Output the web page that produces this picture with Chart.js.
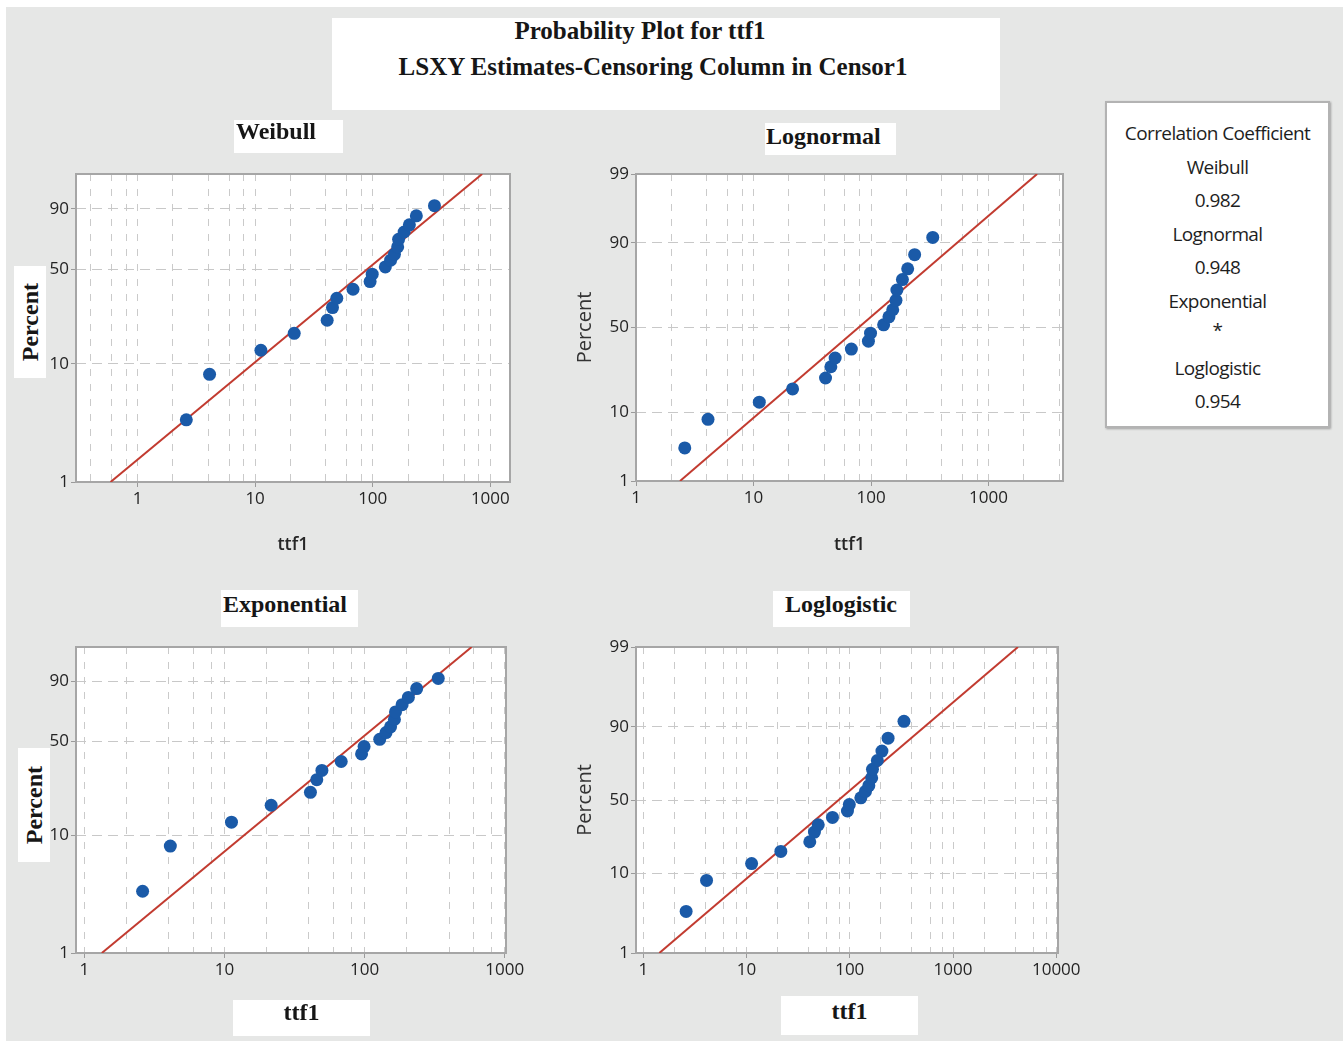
<!DOCTYPE html>
<html>
<head>
<meta charset="utf-8">
<script src="https://cdn.jsdelivr.net/npm/chart.js@4.4.1/dist/chart.umd.min.js"></script>
<style>
  html, body { margin: 0; padding: 0; background: #fff; }
  #page { position: relative; width: 1343px; height: 1041px; overflow: hidden; background: #fff; }
  #bg { position: absolute; left: 6px; top: 7px; right: 0; bottom: 0; background: #e6e7e6; }
  canvas { position: absolute; }
  .box { position: absolute; background: #fff; }
  .serif { position: absolute; font-family: "Liberation Serif", "Times New Roman", serif; font-weight: bold;
           color: #161616; line-height: 1; white-space: nowrap; }
  .vbox { position: absolute; background: #fff; display: flex; align-items: center; justify-content: center; }
  .vbox span { writing-mode: vertical-rl; transform: rotate(180deg); font-family: "Liberation Serif", serif;
               font-weight: bold; font-size: 24px; color: #161616; }
  #legend { position: absolute; left: 1105px; top: 101px; width: 221px; height: 323px; background: #fff;
            border: 2px solid #b3b3b3; box-shadow: 1px 1px 2px #a0a0a0; }
  .leg { position: absolute; left: 1105px; width: 225px; text-align: center; font-family: "Open Sans", sans-serif;
         font-size: 19px; letter-spacing: -0.6px; color: #1e1e1e; line-height: 1; }
</style>
</head>
<body>
<div id="page">
  <div id="bg"></div>

  <div class="box" style="left:332px;top:18px;width:668px;height:92px"></div>
  <div class="serif" style="left:440px;top:18px;width:400px;text-align:center;font-size:25px">Probability Plot for ttf1</div>
  <div class="serif" style="left:353px;top:54px;width:600px;text-align:center;font-size:25px">LSXY Estimates-Censoring Column in Censor1</div>

  <canvas id="weibull" width="540" height="420" style="left:0;top:150px"></canvas>
  <canvas id="lognormal" width="550" height="420" style="left:540px;top:150px"></canvas>
  <canvas id="exponential" width="540" height="420" style="left:0;top:620px"></canvas>
  <canvas id="loglogistic" width="550" height="420" style="left:540px;top:620px"></canvas>

  <div class="box" style="left:234px;top:120px;width:109px;height:33px"></div>
  <div class="serif" style="left:236px;top:119px;font-size:24px">Weibull</div>
  <div class="box" style="left:765px;top:123px;width:131px;height:32px"></div>
  <div class="serif" style="left:766px;top:124px;font-size:24px">Lognormal</div>
  <div class="box" style="left:221px;top:590px;width:137px;height:37px"></div>
  <div class="serif" style="left:223px;top:592px;font-size:24px">Exponential</div>
  <div class="box" style="left:773px;top:591px;width:137px;height:36px"></div>
  <div class="serif" style="left:785px;top:592px;font-size:24px">Loglogistic</div>

  <div class="vbox" style="left:14px;top:266px;width:32px;height:112px"><span>Percent</span></div>
  <div class="vbox" style="left:18px;top:748px;width:32px;height:114px"><span>Percent</span></div>

  <div class="box" style="left:233px;top:1000px;width:137px;height:36px"></div>
  <div class="serif" style="left:233px;top:1000px;width:137px;text-align:center;font-size:24px">ttf1</div>
  <div class="box" style="left:781px;top:996px;width:137px;height:39px"></div>
  <div class="serif" style="left:781px;top:999px;width:137px;text-align:center;font-size:24px">ttf1</div>

  <div id="legend"></div>
  <div class="leg" style="top:124px">Correlation Coefficient</div>
  <div class="leg" style="top:158px">Weibull</div>
  <div class="leg" style="top:191px">0.982</div>
  <div class="leg" style="top:225px">Lognormal</div>
  <div class="leg" style="top:258px">0.948</div>
  <div class="leg" style="top:292px">Exponential</div>
  <div class="leg" style="top:321px">*</div>
  <div class="leg" style="top:359px">Loglogistic</div>
  <div class="leg" style="top:392px">0.954</div>
</div>

<script>
// failure times (ttf1) and their plotted percent
const ttf1 = [2.6, 4.1, 11.2, 21.5, 41, 45.5, 49.5, 68, 95, 99, 128, 142, 153, 163, 166, 185, 205, 235, 335];
const percent = [3.4, 8.2, 12.9, 17.6, 22.2, 27.6, 32.2, 37.2, 41.8, 46.6, 51.6, 56.4, 60.6, 66, 71.5, 76.6, 81.3, 86.5, 91.4];

// fitted lines, ttf1 where they cross 1 % and 99 %
const lineEnds = [1, 99];
const weibullFit = [0.59, 852];
const lognormalFit = [2.37, 2590];
const exponentialFit = [1.33, 580];
const loglogisticFit = [1.43, 4260];

// tick values
const xGrid = [0.4, 0.6, 0.8, 1, 2, 4, 6, 8, 10, 20, 40, 60, 80, 100, 200, 400, 600, 800,
               1000, 2000, 4000, 6000, 8000, 10000];
const xLabels = [1, 10, 100, 1000, 10000];
const yTicks = [1, 10, 50, 90];
const yTicksTop = [1, 10, 50, 90, 99];

const tickFont = { family: "Open Sans", size: 17 };
const titleFont = { family: "Open Sans", size: 18, weight: "600" };

function normInv(p) {
  const a = [-39.69683028665376, 220.9460984245205, -275.9285104469687, 138.3577518672690, -30.66479806614716, 2.506628277459239];
  const b = [-54.47609879822406, 161.5858368580409, -155.6989798598866, 66.80131188771972, -13.28068155288572];
  const c = [-0.007784894002430293, -0.3223964580411365, -2.400758277161838, -2.549732539343734, 4.374664141464968, 2.938163982698783];
  const d = [0.007784695709041462, 0.3224671290700398, 2.445134137142996, 3.754408661907416];
  const lo = 0.02425;
  let q, r;
  if (p < lo || p > 1 - lo) {
    q = Math.sqrt(-2 * Math.log(p < lo ? p : 1 - p));
    const v = (((((c[0] * q + c[1]) * q + c[2]) * q + c[3]) * q + c[4]) * q + c[5]) /
              ((((d[0] * q + d[1]) * q + d[2]) * q + d[3]) * q + 1);
    return p < lo ? v : -v;
  }
  q = p - 0.5;
  r = q * q;
  return (((((a[0] * r + a[1]) * r + a[2]) * r + a[3]) * r + a[4]) * r + a[5]) * q /
         (((((b[0] * r + b[1]) * r + b[2]) * r + b[3]) * r + b[4]) * r + 1);
}

const transforms = {
  weibull: p => Math.log(-Math.log(1 - p / 100)),
  lognormal: p => normInv(p / 100),
  loglogistic: p => Math.log(p / (100 - p))
};

// percent axis on a probability paper scale
class ProbabilityScale extends Chart.Scale {
  determineDataLimits() {
    this.min = this.options.min;
    this.max = this.options.max;
  }
  buildTicks() {
    return [];
  }
  configure() {
    super.configure();
    const f = transforms[this.options.dist];
    this._lo = f(this.min);
    this._hi = f(this.max);
  }
  getLabelForValue(v) {
    return String(v);
  }
  getPixelForValue(v) {
    const f = transforms[this.options.dist];
    return this.getPixelForDecimal((f(v) - this._lo) / (this._hi - this._lo));
  }
  getValueForPixel() {
    return null;
  }
}
ProbabilityScale.id = "probability";
ProbabilityScale.defaults = {};
Chart.register(ProbabilityScale);

const plotFrame = {
  id: "plotFrame",
  beforeDraw(chart) {
    const { ctx, chartArea: a } = chart;
    ctx.save();
    ctx.fillStyle = "#fff";
    ctx.fillRect(a.left, a.top, a.width, a.height);
    ctx.restore();
  },
  beforeDatasetsDraw(chart) {
    const { ctx, chartArea: a } = chart;
    ctx.save();
    ctx.strokeStyle = "#a6a6a6";
    ctx.lineWidth = 2;
    ctx.strokeRect(a.left, a.top, a.width, a.height);
    ctx.restore();
  }
};

function makePanel(id, o) {
  new Chart(document.getElementById(id), {
    type: "scatter",
    data: {
      datasets: [
        {
          data: ttf1.map((x, i) => ({ x, y: percent[i] })),
          backgroundColor: "#1a5aa8",
          borderWidth: 0,
          pointRadius: 6.5
        },
        {
          data: o.fit.map((x, i) => ({ x, y: lineEnds[i] })),
          showLine: true,
          borderColor: "#c23b30",
          borderWidth: 2,
          pointRadius: 0
        }
      ]
    },
    options: {
      responsive: false,
      animation: false,
      devicePixelRatio: 1,
      events: [],
      layout: { padding: o.pad },
      plugins: { legend: { display: false }, tooltip: { enabled: false } },
      scales: {
        x: {
          type: "logarithmic",
          min: o.xMin,
          max: o.xMax,
          afterBuildTicks: s => {
            s.ticks = xGrid.filter(v => v >= o.xMin && v <= o.xMax).map(v => ({ value: v }));
          },
          afterFit: s => { s.height = o.xHeight; },
          ticks: {
            autoSkip: false, maxRotation: 0, padding: 2, color: "#242424", font: tickFont,
            callback: v => (xLabels.includes(v) ? String(v) : "")
          },
          grid: {
            color: "#cacaca",
            tickLength: 5,
            tickColor: c => (c.tick && xLabels.includes(c.tick.value) ? "#9a9a9a" : "rgba(0,0,0,0)")
          },
          border: { display: false, dash: [7, 8] },
          title: {
            display: o.xTitle, text: "ttf1", color: "#262626", font: titleFont,
            padding: { top: 4, bottom: 14 }
          }
        },
        y: {
          type: "probability",
          dist: o.dist,
          min: 1,
          max: 99,
          afterBuildTicks: s => { s.ticks = o.yTicks.map(v => ({ value: v })); },
          afterFit: s => { s.width = o.yWidth; },
          ticks: { autoSkip: false, padding: 2, color: "#242424", font: tickFont },
          grid: {
            color: c => (c.tick && (c.tick.value === 1 || c.tick.value === 99) ? "rgba(0,0,0,0)" : "#c8c8c8"),
            tickLength: 5,
            tickColor: "#9a9a9a"
          },
          border: { display: false, dash: [10, 6] },
          title: {
            display: o.yTitle, text: "Percent", color: "#333",
            font: { family: "Open Sans", size: 20 }, padding: { top: 33, bottom: 0 }
          }
        }
      }
    },
    plugins: [plotFrame]
  });
}

makePanel("weibull", {
  dist: "weibull", fit: weibullFit, xMin: 0.33, xMax: 1470, yTicks: yTicks,
  pad: { left: 0, top: 24, right: 30, bottom: 0 }, yWidth: 76, xHeight: 88,
  xTitle: true, yTitle: false
});
makePanel("lognormal", {
  dist: "lognormal", fit: lognormalFit, xMin: 1, xMax: 4300, yTicks: yTicksTop,
  pad: { left: 0, top: 24, right: 27, bottom: 0 }, yWidth: 96, xHeight: 89,
  xTitle: true, yTitle: true
});
makePanel("exponential", {
  dist: "weibull", fit: exponentialFit, xMin: 0.87, xMax: 1020, yTicks: yTicks,
  pad: { left: 0, top: 27, right: 34, bottom: 0 }, yWidth: 76, xHeight: 87,
  xTitle: false, yTitle: false
});
makePanel("loglogistic", {
  dist: "loglogistic", fit: loglogisticFit, xMin: 0.85, xMax: 10400, yTicks: yTicksTop,
  pad: { left: 0, top: 27, right: 32, bottom: 0 }, yWidth: 96, xHeight: 87,
  xTitle: false, yTitle: true
});
</script>
</body>
</html>
